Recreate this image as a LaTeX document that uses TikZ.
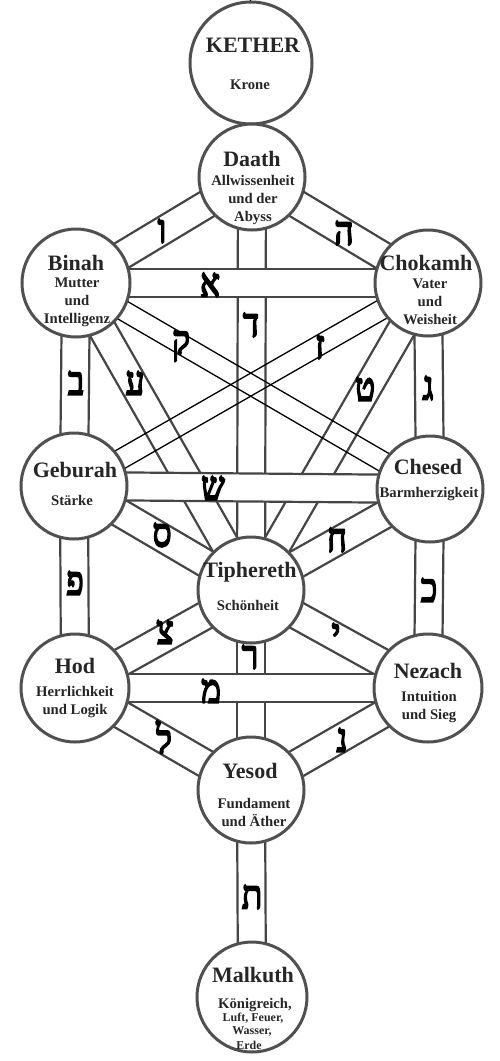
\documentclass[tikz,border=0pt]{standalone}
\usepackage{fontspec}
\setmainfont{Liberation Serif}
\newfontfamily\hebfont[Script=Hebrew,FakeBold=5]{Liberation Serif}
\usetikzlibrary{calc}
\definecolor{bandgray}{HTML}{454545}
\definecolor{circgray}{HTML}{505050}
\definecolor{txt}{HTML}{262626}
\newcommand{\sefband}[2]{%
  \fill[white] ($(#1)!14pt!90:(#2)$) -- ($(#2)!14pt!-90:(#1)$) -- ($(#2)!14pt!90:(#1)$) -- ($(#1)!14pt!-90:(#2)$) -- cycle;
  \draw[bandline] ($(#1)!14pt!90:(#2)$) -- ($(#2)!14pt!-90:(#1)$);
  \draw[bandline] ($(#1)!14pt!-90:(#2)$) -- ($(#2)!14pt!90:(#1)$);}
\newcommand{\sefthin}[2]{%
  \draw[thinline] ($(#1)!10pt!90:(#2)$) -- ($(#2)!10pt!-90:(#1)$);
  \draw[thinline] ($(#1)!10pt!-90:(#2)$) -- ($(#2)!10pt!90:(#1)$);}
\newcommand{\hebl}[1]{\scalebox{1}[1.2]{#1}}
\begin{document}
\begin{tikzpicture}[x=1pt,y=-1pt,
  bandline/.style={draw=bandgray, line width=2.2pt},
  thinline/.style={draw=black, line width=1.3pt},
  sephira/.style={circle, draw=circgray, line width=3pt, fill=white, inner sep=0pt},
  title/.style={font=\bfseries\fontsize{22}{24}\selectfont, text=txt, inner sep=0pt},
  sub/.style={font=\bfseries\fontsize{14.7}{18}\selectfont, text=txt, align=center, inner sep=0pt},
  small/.style={font=\bfseries\fontsize{12}{13}\selectfont, text=txt, align=center, inner sep=0pt},
  heb/.style={font=\hebfont\fontsize{33}{33}\selectfont, text=black, inner sep=0pt},
]
\fill[white] (0,0) rectangle (500,1061);
\useasboundingbox (0,0) rectangle (500,1061);

\coordinate (cK) at (251,63);
\coordinate (cD) at (252,177);
\coordinate (cB) at (76,283);
\coordinate (cC) at (428,283);
\coordinate (cG) at (74,486);
\coordinate (cCh) at (430,489);
\coordinate (cT) at (251,590);
\coordinate (cHo) at (75,688);
\coordinate (cN) at (428,688);
\coordinate (cY) at (251,790);
\coordinate (cM) at (252,997);
\coordinate (topstub) at (250,0);

% paths (bands)
\sefband{cD}{cT}
\sefband{cT}{cY}
\sefband{cY}{cM}
\sefband{cD}{cB}
\sefband{cD}{cC}
\sefband{cB}{cG}
\sefband{cC}{cCh}
\sefband{cG}{cHo}
\sefband{cCh}{cN}
\sefband{cB}{cT}
\sefband{cC}{cT}
\sefband{cG}{cT}
\sefband{cCh}{cT}
\sefband{cT}{cHo}
\sefband{cT}{cN}
\sefband{cHo}{cY}
\sefband{cN}{cY}
\sefband{cB}{cC}
\sefband{cG}{cCh}
\sefband{cHo}{cN}
\sefthin{cB}{cCh}
\sefthin{cC}{cG}

% sephiroth
\node[sephira, minimum size=122pt] (kether) at (cK) {};
\draw[line width=1.5pt, black] (topstub) -- (kether.north);
\node[sephira, minimum size=106pt] (daath) at (cD) {};
\node[sephira, minimum size=108pt] (binah) at (cB) {};
\node[sephira, minimum size=106pt] (chokmah) at (cC) {};
\node[sephira, minimum size=106pt] (geburah) at (cG) {};
\node[sephira, minimum size=106pt] (chesed) at (cCh) {};
\node[sephira, minimum size=106pt] (tiph) at (cT) {};
\node[sephira, minimum size=108pt] (hod) at (cHo) {};
\node[sephira, minimum size=108pt] (nezach) at (cN) {};
\node[sephira, minimum size=106pt] (yesod) at (cY) {};
\node[sephira, minimum size=110pt] (malkuth) at (cM) {};

% texts
\node[title] (tK) at (253,45) {KETHER};
\node[sub] (sK) at (250,85) {Krone};
\node[title] (tD) at (252,159) {Daath};
\node[sub] (sD) at (253,200) {Allwissenheit\\und der\\Abyss};
\node[title] (tB) at (76,263) {Binah};
\node[sub] (sB) at (77,302) {Mutter\\und\\Intelligenz};
\node[title] (tC) at (426,263) {Chokamh};
\node[sub] (sC) at (430,302) {Vater\\und\\Weisheit};
\node[title] (tG) at (75,470) {Geburah};
\node[sub] (sG) at (72,500) {Stärke};
\node[title] (tCh) at (428,467) {Chesed};
\node[sub] (sCh) at (429,494) {Barmherzigkeit};
\node[title] (tT) at (250,572) {Tiphereth};
\node[sub] (sT) at (248,605) {Schönheit};
\node[title] (tHo) at (75,666) {Hod};
\node[sub] (sHo) at (75,702) {Herrlichkeit\\und Logik};
\node[title] (tN) at (428,671) {Nezach};
\node[sub] (sN) at (429,707) {Intuition\\und Sieg};
\node[title] (tY) at (250,771) {Yesod};
\node[sub] (sY) at (254,812) {Fundament\\und Äther};
\node[title] (tM) at (253,975) {Malkuth};
\node[sub] (sM1) at (255,1005) {Königreich,};
\node[small] (sM2) at (253,1018) {Luft, Feuer,};
\node[small] (sM3) at (252,1031) {Wasser,};
\node[small] (sM4) at (249,1045) {Erde};

% letters
\node[heb] (Lvav) at (162,231) {\hebl{ו}};
\node[heb] (Lhe) at (344,233) {\hebl{ה}};
\node[heb] (Laleph) at (210,285) {\hebl{א}};
\node[heb] (Ldaleth) at (251,325) {\hebl{ד}};
\node[heb] (Lqof) at (181,346) {\hebl{ק}};
\node[heb] (Lzayin) at (320,347) {\hebl{ז}};
\node[heb] (Lbet) at (76,383) {\hebl{ב}};
\node[heb] (Layin) at (135,383) {\hebl{ע}};
\node[heb] (Ltet) at (365,389) {\hebl{ט}};
\node[heb] (Lgimel) at (428,388) {\hebl{ג}};
\node[heb] (Lshin) at (213,488) {\hebl{ש}};
\node[heb] (Lsamekh) at (162,535) {\hebl{ס}};
\node[heb] (Lhet) at (337,540) {\hebl{ח}};
\node[heb] (Lpe) at (75,583) {\hebl{פ}};
\node[heb] (Lkaf) at (429,590) {\hebl{כ}};
\node[heb] (Ltsadi) at (165,632) {\hebl{צ}};
\node[heb] (Lyod) at (336,635) {\hebl{י}};
\node[heb] (Lmem) at (211,691) {\hebl{מ}};
\node[heb] (Lresh) at (250,657) {\hebl{ר}};
\node[heb] (Llamed) at (164,737) {\hebl{ל}};
\node[heb] (Lnun) at (342,740) {\hebl{נ}};
\node[heb] (Ltav) at (252,897) {\hebl{ת}};
\end{tikzpicture}
\end{document}
